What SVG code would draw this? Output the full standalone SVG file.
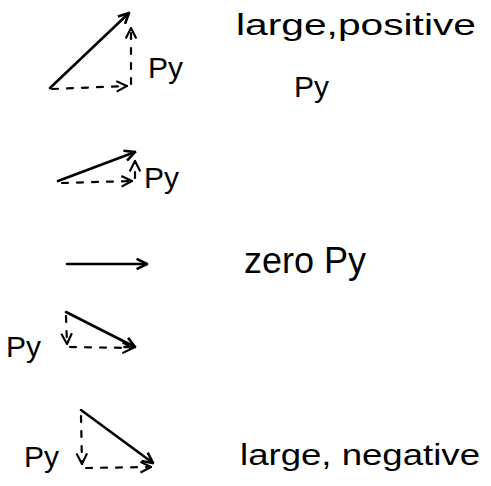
<svg xmlns="http://www.w3.org/2000/svg" width="491" height="486" viewBox="0 0 491 486">
<defs>
<marker id="ah" viewBox="0 0 10 10" refX="9" refY="5" markerWidth="5" markerHeight="5" orient="auto" markerUnits="strokeWidth">
<path d="M1,1 L9,5 L1,9" fill="none" stroke="#000" stroke-width="2"/>
</marker>
<marker id="ad" viewBox="0 0 10 10" refX="9" refY="5" markerWidth="6" markerHeight="6" orient="auto" markerUnits="strokeWidth">
<path d="M1,1 L9,5 L1,9" fill="none" stroke="#000" stroke-width="1.6"/>
</marker>
</defs>
<style>
.s{stroke:#000;stroke-width:2.6;fill:none;stroke-linecap:round;marker-end:url(#ah)}
.d{stroke:#000;stroke-width:2.2;fill:none;stroke-dasharray:6 9;stroke-linecap:round;marker-end:url(#ad)}
.t{font-family:"Liberation Sans",Arial,sans-serif;font-size:30px;fill:#000}
</style>
<rect width="491" height="486" fill="#fff"/>
<g id="connectors">
<line class="s" x1="50" y1="88" x2="129" y2="13"/>
<line class="d" x1="52" y1="89" x2="127" y2="86"/>
<line class="d" x1="131" y1="84" x2="131" y2="28"/>
<line class="s" x1="58" y1="181" x2="135" y2="152"/>
<line class="d" x1="62" y1="183" x2="132" y2="181"/>
<line class="d" x1="135" y1="178" x2="135" y2="161"/>
<line class="s" x1="67" y1="264" x2="147" y2="264"/>
<line class="s" x1="66" y1="312" x2="135" y2="347"/>
<line class="d" x1="66" y1="316" x2="67" y2="344"/>
<line class="d" x1="70" y1="347" x2="133" y2="348"/>
<line class="s" x1="81" y1="410" x2="153" y2="463"/>
<line class="d" x1="81" y1="416" x2="82" y2="464"/>
<line class="d" x1="86" y1="468" x2="151" y2="467"/>
</g>
<g id="labels">
<text class="t" x="148" y="78">Py</text>
<text class="t" x="144" y="188">Py</text>
<text class="t" x="6" y="357">Py</text>
<text class="t" x="24" y="467">Py</text>
<text class="t" x="236" y="35" textLength="240" lengthAdjust="spacingAndGlyphs">large,positive</text>
<text class="t" x="294" y="97">Py</text>
<text class="t" x="244" y="273" style="font-size:36px" textLength="122" lengthAdjust="spacingAndGlyphs">zero Py</text>
<text class="t" x="240" y="465" textLength="240" lengthAdjust="spacingAndGlyphs">large, negative</text>
</g>
</svg>
